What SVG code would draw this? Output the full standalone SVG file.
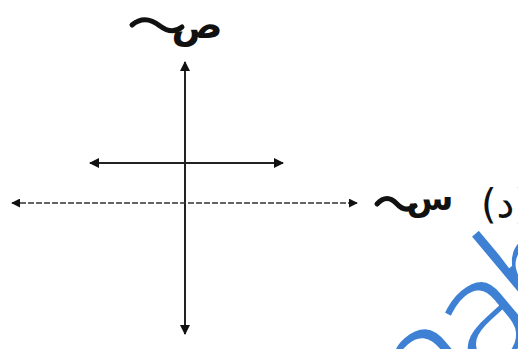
<svg xmlns="http://www.w3.org/2000/svg" width="518" height="349" viewBox="0 0 518 349">
<style>
.ax{stroke:#222;stroke-width:2;fill:none}
.dash{stroke:#333;stroke-width:1.5;stroke-dasharray:6 2;fill:none}
.lbl{font-family:"DejaVu Sans","Noto Sans",sans-serif;fill:#111}
.tl{stroke:#111;stroke-width:5;fill:none;stroke-linecap:round}
</style>
<defs>
<marker id="ah" viewBox="0 0 10 10" refX="9" refY="5" markerWidth="5" markerHeight="5" orient="auto-start-reverse" markerUnits="strokeWidth">
<path d="M0,0 L10,5 L0,10 Z" fill="#111"/>
</marker>
<marker id="ahd" viewBox="0 0 10 10" refX="9" refY="5" markerWidth="6" markerHeight="6" orient="auto-start-reverse" markerUnits="strokeWidth">
<path d="M0,0 L10,5 L0,10 Z" fill="#111"/>
</marker>
</defs>
<rect width="518" height="349" fill="#fff"/>
<g id="watermark">
<text x="0" y="0" font-family="'Open Sans',sans-serif" font-size="160" letter-spacing="-16" fill="#3d80d4" stroke="#fff" stroke-width="4" transform="translate(418,438) rotate(-40)">nab</text>
</g>
<g id="connectors">
<line class="ax" x1="185" y1="62" x2="185" y2="334" marker-start="url(#ah)" marker-end="url(#ah)"/>
<line class="dash" x1="12" y1="203" x2="357" y2="203" marker-start="url(#ahd)" marker-end="url(#ahd)"/>
<line class="ax" x1="90" y1="163" x2="283" y2="163" marker-start="url(#ah)" marker-end="url(#ah)"/>
</g>
<g id="label-y">
<text class="lbl" x="197" y="38" font-size="38" font-weight="bold" text-anchor="middle">ص</text>
<path class="tl" d="M132,25 Q145,14 160,26 Q172,35 182,27"/>
</g>
<g id="label-x">
<text class="lbl" x="430" y="210" font-size="34" font-weight="bold" text-anchor="middle">س</text>
<path class="tl" d="M377,204 Q387,193 397,204 Q405,213 415,206"/>
</g>
<g id="label-d">
<text class="lbl" x="481" y="218" font-size="40">(د)</text>
</g>
</svg>
